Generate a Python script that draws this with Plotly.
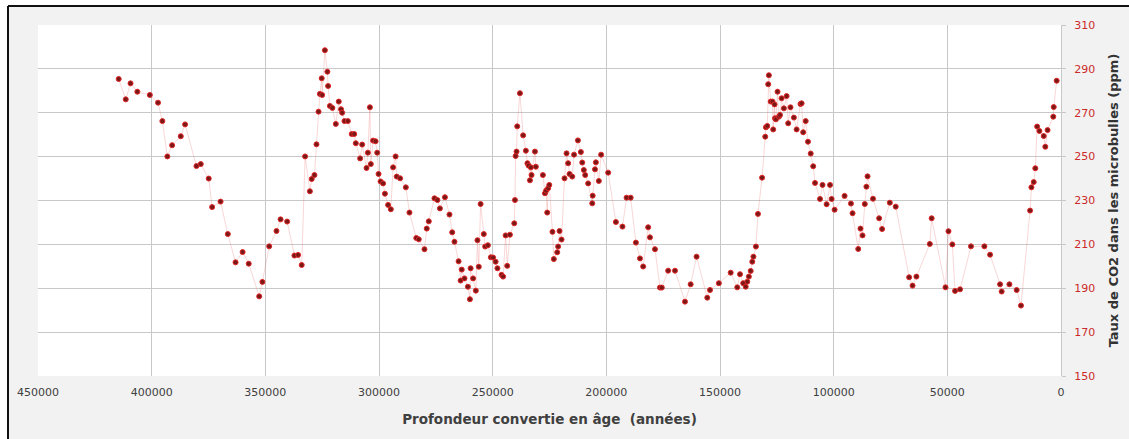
import plotly.graph_objects as go

# Age (years before present) and CO2 (ppm)
age = [
    414500, 411400, 409300, 406300, 400800, 397200, 395300, 393100, 391000, 387200,
    385300, 380300, 378400, 374900, 373400, 369700, 366500, 363100, 360000, 357300,
    352700, 351300, 348300, 345100, 343300, 340400, 337200, 335600, 334000, 332500,
    330400, 329600, 328400, 327500, 326600, 326000, 325200, 325000, 323800, 322700,
    322400, 321600, 320500, 319000, 317700, 316700, 316200, 315200, 313700, 312000,
    310900, 310200, 308300, 307400, 305500, 304900, 304000, 303600, 302600, 301500,
    300800, 300200, 299300, 298200, 297400, 296000, 294800, 293800, 292700, 292200,
    290700, 288200, 286600, 283600, 282500, 280000, 279000, 278100, 275600, 274300,
    273200, 271000, 269000, 267800, 266800, 265000, 264100, 263600, 262400, 260900,
    260000, 259700, 258600, 257400, 256700, 256100, 255300, 253900, 253300, 252100,
    250800, 249800, 248700, 247900, 246100, 245400, 244300, 243600, 242400, 240500,
    240200, 239900, 239500, 239200, 238000, 236600, 235400, 234700, 234200, 233600,
    233200, 232900, 231400, 231000, 227900, 227000, 226500, 226000, 225600, 225100,
    223700, 223100, 221600, 221200, 220600, 219700, 218400, 217500, 216800, 216200,
    215000, 214200, 212500, 211200, 210600, 209900, 209300, 208000, 206200, 206000,
    205000, 204600, 203300, 202300, 199200, 195800, 192900, 191100, 189300, 187000,
    185200, 183800, 181600, 180800, 178600, 176400, 175600, 172800, 169800, 165400,
    162900, 160300, 155600, 154400, 150500, 145300, 142400, 141200, 139800, 138700,
    138000, 137300, 136500, 135800, 135300, 134200, 133300, 131500, 130100, 129800,
    129200, 128800, 128500, 127700, 126900, 126600, 126000, 125800, 125400, 124700,
    124100, 123600, 122900, 121900, 120700, 120000, 119000, 117500, 116300, 114600,
    114100, 113400, 112300, 111300, 110100, 109000, 108200, 106000, 104900, 103100,
    101600, 100900, 99600, 95200, 92400, 91700, 89200, 88200, 87300, 86300,
    85600, 85100, 82700, 80000, 78700, 75300, 72700, 66800, 65300, 63600,
    57700, 56900, 50800, 49500, 47800, 46600, 44400, 39600, 33700, 31200,
    26800, 26100, 22700, 19500, 17600, 13600, 13000, 12000, 11300, 10500,
    9500, 7600, 6900, 5900, 3400, 3200, 1900,
]
co2 = [
    285.4, 276.1, 283.4, 279.6, 278.1, 274.6, 266.2, 250.1, 255.2, 259.3,
    264.7, 245.7, 246.6, 240.0, 227.0, 229.5, 214.7, 201.8, 206.5, 201.2,
    186.3, 192.9, 209.1, 216.1, 221.4, 220.4, 204.9, 205.2, 200.6, 250.1,
    234.2, 239.8, 241.6, 255.6, 270.5, 278.6, 285.7, 278.1, 298.5, 288.7,
    282.2, 273.1, 272.2, 264.9, 275.1, 271.6, 270.0, 266.2, 266.2, 260.3,
    260.3, 256.1, 249.2, 255.5, 244.8, 251.8, 272.5, 246.6, 257.3, 257.0,
    251.8, 242.1, 238.7, 237.8, 233.1, 228.0, 226.0, 245.1, 250.1, 240.9,
    240.1, 236.0, 224.5, 212.9, 212.3, 207.8, 217.2, 220.5, 231.0, 230.2,
    226.4, 231.5, 223.6, 215.5, 211.2, 202.3, 193.5, 198.5, 194.5, 190.7,
    185.0, 199.1, 194.5, 188.9, 211.9, 199.8, 228.4, 214.7, 209.0, 209.6,
    204.1, 204.0, 202.1, 199.1, 196.1, 195.3, 214.1, 200.2, 214.4, 219.6,
    230.2, 250.3, 252.3, 263.8, 278.9, 259.7, 252.7, 247.0, 245.9, 239.2,
    245.1, 241.6, 252.3, 245.4, 241.6, 233.3, 234.5, 224.5, 235.6, 237.1,
    215.7, 203.3, 206.4, 209.0, 216.1, 212.2, 240.1, 251.5, 247.0, 242.1,
    240.9, 250.9, 257.4, 252.1, 247.3, 243.9, 241.6, 237.8, 228.7, 232.2,
    244.2, 247.4, 238.9, 250.9, 242.7, 220.2, 218.1, 231.3, 231.3, 210.8,
    203.6, 199.9, 217.8, 213.2, 207.8, 190.3, 190.3, 198.0, 198.0, 183.9,
    191.8, 204.4, 185.7, 189.2, 192.3, 197.1, 190.4, 196.4, 192.3, 190.7,
    193.0, 195.3, 197.9, 202.1, 204.4, 209.0, 223.9, 240.4, 259.1, 263.4,
    264.0, 283.0, 287.1, 275.1, 275.1, 262.4, 273.8, 267.5, 267.0, 279.6,
    268.2, 269.0, 276.6, 272.0, 277.6, 265.2, 272.5, 267.8, 262.4, 274.0,
    274.3, 261.1, 266.2, 256.8, 251.4, 245.6, 238.0, 230.7, 237.1, 228.3,
    237.1, 230.7, 225.8, 232.1, 228.6, 224.2, 207.9, 217.2, 214.1, 228.4,
    236.3, 241.0, 230.8, 221.9, 217.0, 229.0, 227.2, 195.0, 191.2, 195.3,
    210.2, 221.9, 190.4, 216.0, 210.0, 188.8, 189.5, 209.1, 209.1, 205.3,
    191.8, 188.5, 191.8, 189.2, 182.1, 225.4, 236.0, 238.4, 244.7, 263.7,
    261.7, 259.4, 254.5, 262.1, 268.2, 272.6, 284.6,
]

x_ticks = [450000, 400000, 350000, 300000, 250000, 200000, 150000, 100000, 50000, 0]
y_ticks = [150, 170, 190, 210, 230, 250, 270, 290, 310]

x_title = "Profondeur convertie en âge  (années)"
y_title = "Taux de CO2 dans les microbulles (ppm)"

W, H = 1129, 439
L, R, T, B = 38, 68, 25, 63
pw, ph = W - L - R, H - T - B


def px2paper_x(px):
    return (px - L) / pw


def px2paper_y(py):
    return (H - B - py) / ph


fig = go.Figure()
fig.add_trace(go.Scatter(
    x=age, y=co2, mode="lines+markers",
    line=dict(color="rgba(235,110,110,0.35)", width=0.8),
    marker=dict(size=5, color="#7a1818", line=dict(color="#e02626", width=1)),
    showlegend=False, hoverinfo="x+y",
))

shapes = []
# white area outside the frame (left and top)
shapes.append(dict(type="rect", xref="paper", yref="paper",
                   x0=px2paper_x(-5), x1=px2paper_x(8), y0=px2paper_y(H + 5), y1=px2paper_y(-5),
                   fillcolor="white", line=dict(width=0), layer="below"))
shapes.append(dict(type="rect", xref="paper", yref="paper",
                   x0=px2paper_x(-5), x1=px2paper_x(W + 5), y0=px2paper_y(6), y1=px2paper_y(-5),
                   fillcolor="white", line=dict(width=0), layer="below"))
# frame lines
shapes.append(dict(type="line", xref="paper", yref="paper",
                   x0=px2paper_x(8), x1=px2paper_x(8), y0=px2paper_y(H + 5), y1=px2paper_y(6),
                   line=dict(color="#111111", width=2)))
shapes.append(dict(type="line", xref="paper", yref="paper",
                   x0=px2paper_x(8), x1=px2paper_x(W + 5), y0=px2paper_y(6), y1=px2paper_y(6),
                   line=dict(color="#111111", width=2)))

fig.update_layout(
    width=W, height=H,
    margin=dict(l=L, r=R, t=T, b=B, pad=0),
    paper_bgcolor="#f2f2f2",
    plot_bgcolor="white",
    shapes=shapes,
    font=dict(family="DejaVu Sans", size=11, color="#404040"),
    xaxis=dict(
        range=[450000, 0], tickvals=x_ticks, ticktext=[str(v) for v in x_ticks],
        showgrid=True, gridcolor="#c8c8c8", gridwidth=1, zeroline=False,
        showline=False, ticks="", ticklabelstandoff=8,
        tickfont=dict(family="DejaVu Sans", size=11, color="#404040"),
        title=dict(text=x_title, standoff=16,
                   font=dict(family="DejaVu Sans", size=13.5, color="#404040", weight="bold")),
    ),
    yaxis=dict(
        range=[150, 310], tickvals=y_ticks, side="right",
        showgrid=True, gridcolor="#c8c8c8", gridwidth=1, zeroline=False,
        showline=True, linecolor="#c8c8c8", linewidth=1,
        ticks="outside", ticklen=4, tickcolor="#c8c8c8", ticklabelstandoff=6,
        tickfont=dict(family="DejaVu Sans", size=11, color="#cc2a2a"),
        title=dict(text=y_title, standoff=14,
                   font=dict(family="DejaVu Sans", size=13, color="#333333", weight="bold")),
    ),
)

fig.write_html("out.html")
